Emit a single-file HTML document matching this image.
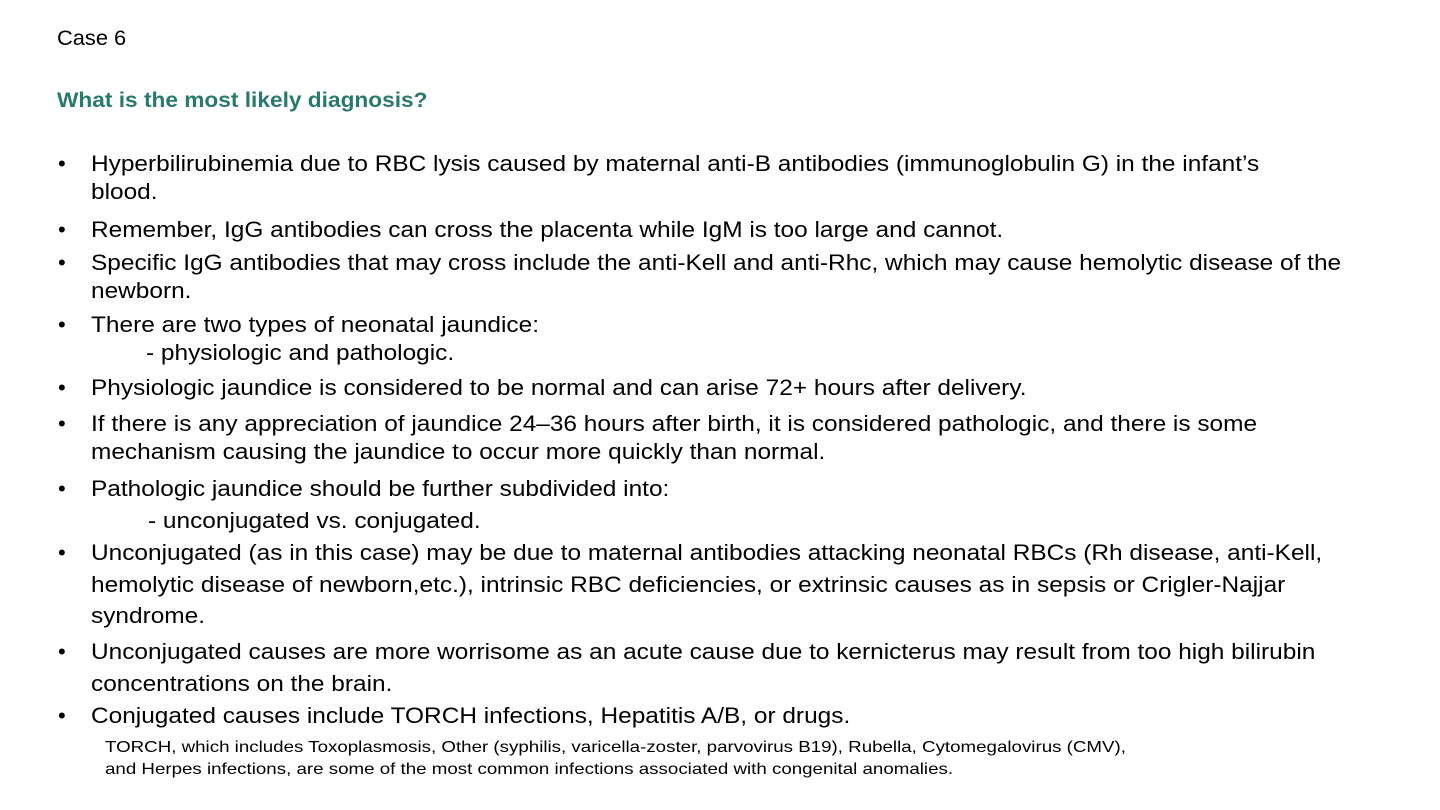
<!DOCTYPE html>
<html><head><meta charset="utf-8"><style>
body{margin:0;width:1440px;height:810px;background:#fff;position:relative;overflow:hidden;font-family:"Liberation Sans",sans-serif;color:#000}
.l{position:absolute;white-space:nowrap;line-height:1;transform-origin:0 50%}
.m{font-size:22px;transform:scaleX(1.11)}
.s{font-size:16px;transform:scaleX(1.17)}
.b{position:absolute;font-size:22px;line-height:1;left:58px}
</style></head><body>
<div class="l" style="left:57px;top:28px;font-size:21px;transform:scaleX(1.04)">Case 6</div>
<div class="l" style="left:57px;top:90px;font-size:21px;font-weight:bold;color:#2a7a6b;transform:scaleX(1.08)">What is the most likely diagnosis?</div>
<div>
<div class="b" style="top:153px">•</div>
<div class="l m" style="left:91px;top:153px">Hyperbilirubinemia due to RBC lysis caused by maternal anti-B antibodies (immunoglobulin G) in the infant’s</div>
<div class="l m" style="left:91px;top:181px">blood.</div>
<div class="b" style="top:219px">•</div>
<div class="l m" style="left:91px;top:219px">Remember, IgG antibodies can cross the placenta while IgM is too large and cannot.</div>
<div class="b" style="top:252px">•</div>
<div class="l m" style="left:91px;top:252px">Specific IgG antibodies that may cross include the anti-Kell and anti-Rhc, which may cause hemolytic disease of the</div>
<div class="l m" style="left:91px;top:280px">newborn.</div>
<div class="b" style="top:314px">•</div>
<div class="l m" style="left:91px;top:314px">There are two types of neonatal jaundice:</div>
<div class="l m" style="left:146px;top:342px">- physiologic and pathologic.</div>
<div class="b" style="top:377px">•</div>
<div class="l m" style="left:91px;top:377px">Physiologic jaundice is considered to be normal and can arise 72+ hours after delivery.</div>
<div class="b" style="top:413px">•</div>
<div class="l m" style="left:91px;top:413px">If there is any appreciation of jaundice 24–36 hours after birth, it is considered pathologic, and there is some</div>
<div class="l m" style="left:91px;top:441px">mechanism causing the jaundice to occur more quickly than normal.</div>
<div class="b" style="top:478px">•</div>
<div class="l m" style="left:91px;top:478px">Pathologic jaundice should be further subdivided into:</div>
<div class="l m" style="left:148px;top:510px">- unconjugated vs. conjugated.</div>
<div class="b" style="top:542px">•</div>
<div class="l m" style="left:91px;top:542px">Unconjugated (as in this case) may be due to maternal antibodies attacking neonatal RBCs (Rh disease, anti-Kell,</div>
<div class="l m" style="left:91px;top:574px">hemolytic disease of newborn,etc.), intrinsic RBC deficiencies, or extrinsic causes as in sepsis or Crigler-Najjar</div>
<div class="l m" style="left:91px;top:605px">syndrome.</div>
<div class="b" style="top:641px">•</div>
<div class="l m" style="left:91px;top:641px">Unconjugated causes are more worrisome as an acute cause due to kernicterus may result from too high bilirubin</div>
<div class="l m" style="left:91px;top:673px">concentrations on the brain.</div>
<div class="b" style="top:705px">•</div>
<div class="l m" style="left:91px;top:705px">Conjugated causes include TORCH infections, Hepatitis A/B, or drugs.</div>
<div class="l s" style="left:105px;top:740px">TORCH, which includes Toxoplasmosis, Other (syphilis, varicella-zoster, parvovirus B19), Rubella, Cytomegalovirus (CMV),</div>
<div class="l s" style="left:105px;top:762px">and Herpes infections, are some of the most common infections associated with congenital anomalies.</div>
</div>
</body></html>
